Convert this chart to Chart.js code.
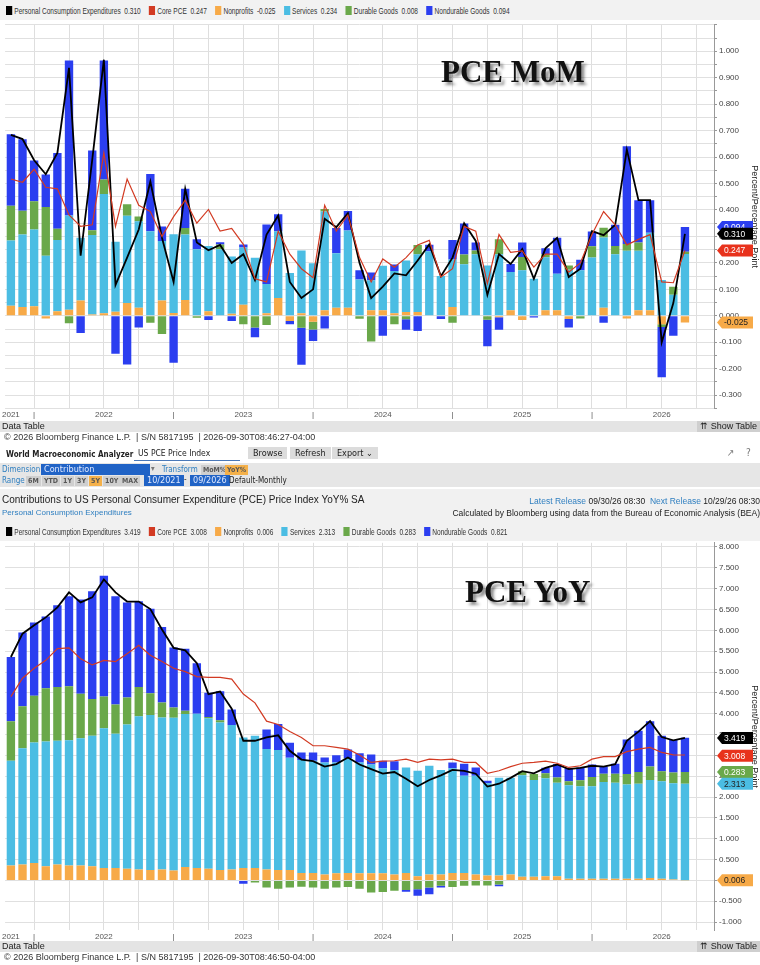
<!DOCTYPE html>
<html>
<head>
<meta charset="utf-8">
<script src="https://cdn.jsdelivr.net/npm/chart.js@4.4.1/dist/chart.umd.min.js"></script>
<style>
  body { margin: 0; width: 760px; height: 965px; background: #fff; position: relative; overflow: hidden;
         font-family: "Liberation Sans", Arial, sans-serif; color: #222; }
  .abs { position: absolute; }
  .legend { left: 0; width: 760px; height: 20px; }
  .legend .in { position: absolute; left: 6px; top: 0; height: 20px; display: flex; align-items: center; white-space: nowrap;
                font-size: 9.5px; color: #333; transform: scaleX(0.69); transform-origin: left center; }
  .legend span.item { display: inline-flex; align-items: center; margin-right: 12px; white-space: nowrap; }
  .legend i { display: inline-block; width: 9px; height: 9px; margin-right: 3px; }
  .bar { left: 0; width: 760px; height: 11px; background: #e4e4e4; font-size: 9px; line-height: 11px; }
  .bar .l { position: absolute; left: 2px; }
  .bar .r { position: absolute; right: 0; top: 0; background: #cfcfcf; padding: 0 3px; }
  .copy { left: 4px; font-size: 9px; color: #333; white-space: nowrap; }
  .big { font-family: "Liberation Serif", "Times New Roman", serif; font-weight: bold; font-size: 31px; color: #111;
         text-shadow: 3px 3px 3px rgba(0,0,0,0.45); white-space: nowrap; }
  .btn { background: #dcdcdc; padding: 1px 5px; font-size: 9px; }
  .blue { color: #2f7fc0; }
  .tab { position: absolute; top: 0; background: #cfcfcf; padding: 0 2px; font-size: 7px; font-weight: bold; color: #555; line-height: 10px; }
  .sel { background: #2063c6; color: #dfe8ff; padding: 0 3px; font-size: 9px; line-height: 11px; }
  .cond { font-family: "DejaVu Sans Condensed", "Liberation Sans", sans-serif; }
</style>
</head>
<body>
<div class="abs legend" style="top:0;background:#f2f2f2"><div class="in" id="leg1"></div></div>
<canvas class="abs" id="mom" style="left:0;top:18px" width="760" height="404"></canvas>
<div class="abs big" style="left:441px;top:54px">PCE MoM</div>

<div class="abs bar" style="top:421px"><span class="l">Data Table</span><span class="r">&#8648; Show Table</span></div>
<div class="abs copy" style="top:432px">&#169; 2026 Bloomberg Finance L.P. &nbsp;| S/N 5817195 &nbsp;| 2026-09-30T08:46:27-04:00</div>

<div class="abs cond" style="left:0;top:446px;width:760px;height:17px;font-size:8.5px;">
  <span class="abs" style="left:6px;top:4px;font-weight:bold;font-size:8px">World Macroeconomic Analyzer</span>
  <span class="abs" style="left:134px;top:2px;width:102px;height:12px;border-bottom:1px solid #4a78b8;padding-left:4px">US PCE Price Index</span>
  <span class="abs btn" style="left:248px;top:1px">Browse</span>
  <span class="abs btn" style="left:290px;top:1px">Refresh</span>
  <span class="abs btn" style="left:332px;top:1px">Export &#8964;</span>
  <span class="abs" style="left:727px;top:1px;font-size:10px;color:#777">&#8599;</span>
  <span class="abs" style="left:746px;top:1px;font-size:10px;color:#777">?</span>
</div>
<div class="abs cond" style="left:0;top:463px;width:760px;height:24px;background:#e6e6e6;font-size:8px">
  <span class="abs blue" style="left:2px;top:2px">Dimension</span>
  <span class="abs sel" style="left:41px;top:1px;width:103px">Contribution</span>
  <span class="abs" style="left:151px;top:1px;color:#777">&#9662;</span>
  <span class="abs blue" style="left:162px;top:2px">Transform</span>
  <span class="abs" style="left:0;top:2px"><span class="tab" style="left:201px">MoM%</span><span class="tab" style="left:225px;background:#f5b14a">YoY%</span></span>
  <span class="abs blue" style="left:2px;top:13px">Range</span>
  <span class="abs" style="left:0;top:13px">
    <span class="tab" style="left:26px">6M</span><span class="tab" style="left:42px">YTD</span><span class="tab" style="left:61px">1Y</span><span class="tab" style="left:75px">3Y</span><span class="tab" style="left:89px;background:#f5b14a">5Y</span><span class="tab" style="left:103px">10Y</span><span class="tab" style="left:120px">MAX</span>
  </span>
  <span class="abs sel" style="left:144px;top:12px">10/2021</span>
  <span class="abs" style="left:184px;top:12px">-</span>
  <span class="abs sel" style="left:190px;top:12px">09/2026</span>
  <span class="abs" style="left:229px;top:13px">Default-Monthly</span>
</div>
<div class="abs" style="left:0;top:489px;width:760px;height:32px;background:#f1f1f1">
  <span class="abs" style="left:2px;top:5px;font-size:10px;color:#222">Contributions to US Personal Consumer Expenditure (PCE) Price Index YoY% SA</span>
  <span class="abs blue" style="left:2px;top:19px;font-size:8px">Personal Consumption Expenditures</span>
  <span class="abs" style="right:0;top:7px;font-size:8.5px"><span class="blue">Latest Release</span> 09/30/26 08:30 &nbsp;<span class="blue">Next Release</span> 10/29/26 08:30</span>
  <span class="abs" style="right:0;top:19px;font-size:8.5px">Calculated by Bloomberg using data from the Bureau of Economic Analysis (BEA)</span>
</div>
<div class="abs legend" style="top:521px;background:#f1f1f1"><div class="in" id="leg2"></div></div>
<canvas class="abs" id="yoy" style="left:0;top:536px" width="760" height="408"></canvas>
<div class="abs big" style="left:465px;top:574px">PCE YoY</div>

<div class="abs bar" style="top:941px"><span class="l">Data Table</span><span class="r">&#8648; Show Table</span></div>
<div class="abs copy" style="top:952px">&#169; 2026 Bloomberg Finance L.P. &nbsp;| S/N 5817195 &nbsp;| 2026-09-30T08:46:50-04:00</div>

<script>
// Month categories, May 2021 .. May 2026 (last two are empty slots)
const months = [
  '2021-05','2021-06','2021-07','2021-08','2021-09','2021-10','2021-11','2021-12',
  '2022-01','2022-02','2022-03','2022-04','2022-05','2022-06','2022-07','2022-08','2022-09','2022-10','2022-11','2022-12',
  '2023-01','2023-02','2023-03','2023-04','2023-05','2023-06','2023-07','2023-08','2023-09','2023-10','2023-11','2023-12',
  '2024-01','2024-02','2024-03','2024-04','2024-05','2024-06','2024-07','2024-08','2024-09','2024-10','2024-11','2024-12',
  '2025-01','2025-02','2025-03','2025-04','2025-05','2025-06','2025-07','2025-08','2025-09','2025-10','2025-11','2025-12',
  '2026-01','2026-02','2026-03','2026-04','2026-05'
];

// ---- MoM contributions ----
const momNonprofits = [0.038,0.033,0.036,-0.010,0.017,0.023,0.058,0.005,0.010,0.015,0.048,0.030,0.000,0.058,0.011,0.060,0.000,0.017,0.002,0.008,
  0.042,0.000,0.010,0.067,-0.020,0.010,-0.022,0.021,0.030,0.030,0.000,0.021,0.021,0.010,0.014,0.014,0.002,0.000,0.033,0.000,
  0.000,0.000,-0.005,0.021,-0.016,0.000,0.021,0.021,-0.012,0.000,0.000,0.030,0.000,-0.010,0.021,0.021,-0.032,0.000,-0.025];
const momServices = [0.247,0.274,0.290,0.227,0.270,0.356,0.237,0.300,0.450,0.265,0.330,0.327,0.320,0.225,0.297,0.247,0.252,0.247,0.250,0.216,
  0.216,0.219,0.110,0.253,0.162,0.237,0.199,0.373,0.206,0.292,0.137,0.113,0.168,0.159,0.195,0.219,0.242,0.150,0.180,0.195,
  0.233,0.190,0.233,0.145,0.172,0.140,0.200,0.138,0.174,0.172,0.220,0.266,0.233,0.246,0.225,0.293,0.135,0.080,0.234];
const momDurable = [0.131,0.090,0.107,0.184,0.042,-0.028,0.000,0.018,0.055,0.000,0.044,0.018,-0.026,-0.069,0.000,0.025,-0.007,0.000,0.018,0.000,
  -0.032,-0.044,-0.035,0.000,0.000,-0.045,-0.030,0.010,0.000,0.000,-0.011,-0.097,0.000,-0.032,-0.013,0.035,0.000,0.000,-0.026,0.037,
  0.014,-0.015,0.056,0.000,0.050,0.000,0.012,0.000,0.016,-0.010,0.043,0.037,0.031,0.025,0.031,0.000,-0.010,0.030,0.008];
const momNondurable = [0.270,0.270,0.154,0.123,0.286,0.586,-0.065,0.302,0.450,-0.143,-0.184,-0.044,0.216,0.055,-0.177,0.148,0.037,-0.016,0.008,-0.020,
  0.012,-0.037,0.225,0.064,-0.012,-0.140,-0.043,-0.048,0.096,0.074,0.035,0.030,-0.075,0.025,-0.040,-0.057,0.025,-0.012,0.074,0.117,
  0.030,-0.100,-0.048,0.030,0.055,-0.006,0.022,0.136,-0.032,0.040,0.056,-0.026,0.080,0.370,0.160,0.123,-0.190,-0.075,0.094];
const momPCE = [0.684,0.668,0.588,0.535,0.616,0.937,0.227,0.590,0.968,0.116,0.220,0.326,0.507,0.295,0.128,0.480,0.277,0.248,0.268,0.200,
  0.233,0.135,0.307,0.379,0.128,0.067,0.100,0.367,0.335,0.388,0.200,0.067,0.110,0.160,0.153,0.209,0.270,0.150,0.220,0.350,
  0.283,0.079,0.233,0.196,0.252,0.140,0.255,0.295,0.147,0.178,0.320,0.305,0.344,0.628,0.437,0.437,-0.100,0.048,0.310];
const momCore = [0.517,0.505,0.554,0.486,0.480,0.381,0.338,0.344,0.616,0.338,0.517,0.418,0.394,0.300,0.375,0.437,0.350,0.402,0.320,0.330,
  0.270,0.140,0.128,0.320,0.233,0.178,0.144,0.418,0.320,0.381,0.220,0.128,0.215,0.184,0.220,0.268,0.285,0.147,0.178,0.338,
  0.320,0.122,0.307,0.240,0.245,0.184,0.233,0.233,0.165,0.200,0.307,0.394,0.344,0.268,0.289,0.307,0.128,0.125,0.247];

// ---- YoY contributions ----
const yoyNonprofits = [0.36,0.38,0.42,0.34,0.38,0.36,0.36,0.34,0.30,0.30,0.28,0.26,0.25,0.26,0.24,0.32,0.30,0.28,0.25,0.26,
  0.30,0.30,0.26,0.25,0.25,0.18,0.18,0.14,0.17,0.18,0.17,0.17,0.17,0.14,0.18,0.10,0.14,0.14,0.18,0.18,
  0.14,0.12,0.12,0.14,0.09,0.09,0.10,0.10,0.04,0.04,0.04,0.04,0.04,0.04,0.04,0.06,0.04,0.02,0.006];
const yoyServices = [2.51,2.79,2.89,2.99,2.97,3.00,3.05,3.13,3.35,3.22,3.46,3.68,3.72,3.65,3.66,3.67,3.70,3.61,3.54,3.47,
  3.13,3.17,2.89,2.88,2.69,2.71,2.69,2.69,2.66,2.75,2.66,2.61,2.52,2.51,2.53,2.53,2.61,2.51,2.51,2.33,
  2.37,2.21,2.34,2.32,2.43,2.32,2.35,2.24,2.24,2.22,2.22,2.32,2.30,2.26,2.28,2.35,2.34,2.31,2.313];
const yoyDurable = [0.95,1.01,1.12,1.28,1.29,1.30,1.07,0.88,0.76,0.70,0.65,0.70,0.52,0.36,0.25,0.08,0.00,0.03,0.05,0.00,
  0.00,-0.05,-0.17,-0.20,-0.17,-0.15,-0.17,-0.20,-0.17,-0.16,-0.20,-0.29,-0.28,-0.25,-0.23,-0.21,-0.17,-0.13,-0.16,-0.13,
  -0.12,-0.12,-0.10,0.00,0.10,0.14,0.12,0.13,0.10,0.14,0.22,0.20,0.22,0.25,0.28,0.32,0.24,0.26,0.283];
const yoyNondurable = [1.54,1.77,1.76,1.72,1.96,2.16,2.26,2.59,2.90,2.60,2.28,2.06,2.03,1.81,1.44,1.49,1.21,0.58,0.70,0.37,
  -0.08,0.00,0.47,0.62,0.36,0.18,0.20,0.12,0.17,0.21,0.22,0.24,0.18,0.21,-0.04,-0.16,-0.16,-0.04,0.14,0.29,
  0.20,0.06,-0.04,0.00,0.00,0.00,0.13,0.32,0.31,0.30,0.30,0.17,0.24,0.83,0.99,1.09,0.85,0.78,0.821];
const yoyPCE = [5.36,5.92,6.12,6.31,6.55,6.91,6.67,6.79,7.22,6.91,6.69,6.69,6.51,6.02,5.58,5.52,5.21,4.47,4.53,4.12,
  3.35,3.35,3.43,3.48,3.11,2.90,2.86,2.73,2.79,2.95,2.78,2.67,2.56,2.60,2.44,2.26,2.41,2.52,2.65,2.63,
  2.56,2.25,2.32,2.46,2.62,2.57,2.70,2.78,2.67,2.70,2.75,2.73,2.79,3.35,3.57,3.82,3.44,3.36,3.419];
const yoyCore = [4.41,4.85,5.09,5.28,5.56,5.58,5.32,5.17,5.28,5.25,5.44,5.64,5.40,5.25,5.09,5.01,4.89,4.87,4.87,4.83,
  4.47,4.26,3.82,3.74,3.57,3.43,3.23,3.23,3.19,3.15,3.01,2.83,2.86,2.87,2.91,2.83,2.91,2.89,2.91,2.83,
  2.83,2.57,2.63,2.73,2.81,2.83,2.86,2.81,2.71,2.75,2.91,2.97,2.97,3.09,3.15,3.19,3.07,3.01,3.008];

const COLORS = {
  pce: '#000000', core: '#d23a22', nonprofits: '#f7aa48',
  services: '#4bbde3', durable: '#6aa84a', nondurable: '#2b3ef0'
};

/**
 * Fill the HTML legend strip
 */
function fillLegend(id, vals) {
  const names = [['Personal Consumption Expenditures', 'pce'], ['Core PCE', 'core'], ['Nonprofits', 'nonprofits'],
                 ['Services', 'services'], ['Durable Goods', 'durable'], ['Nondurable Goods', 'nondurable']];
  document.getElementById(id).innerHTML = names.map((n, i) =>
    `<span class="item"><i style="background:${COLORS[n[1]]}"></i>${n[0]}&nbsp; ${vals[i]}</span>`).join('');
}

// draws the value tags on the right axis
const tagPlugin = {
  id: 'tags',
  afterDraw(chart, args, opts) {
    const ctx = chart.ctx;
    const y = chart.scales.y;
    const x0 = chart.chartArea.right + 3;
    ctx.save();
    ctx.font = '8.5px "Liberation Sans", sans-serif';
    ctx.textBaseline = 'middle';
    (opts.items || []).forEach(t => {
      const py = y.getPixelForValue(t.value);
      ctx.fillStyle = t.color;
      ctx.beginPath();
      ctx.moveTo(x0, py);
      ctx.lineTo(x0 + 5, py - 6);
      ctx.lineTo(x0 + 36, py - 6);
      ctx.lineTo(x0 + 36, py + 6);
      ctx.lineTo(x0 + 5, py + 6);
      ctx.closePath();
      ctx.fill();
      ctx.fillStyle = t.text || '#fff';
      ctx.fillText(t.label, x0 + 7, py + 0.5);
    });
    ctx.restore();
  }
};

/**
 * Build one stacked contribution chart
 */
function makeChart(canvas, o) {
  const bar = (label, data, color) => ({
    type: 'bar', label, data, backgroundColor: color, stack: 'parts', order: 2,
    barPercentage: 0.72, categoryPercentage: 1.0
  });
  const line = (label, data, color, w) => ({
    type: 'line', label, data, borderColor: color, borderWidth: w, pointRadius: 0,
    stack: label, order: 0, tension: 0
  });
  return new Chart(canvas, {
    data: {
      labels: months,
      datasets: [
        bar('Nonprofits', o.nonprofits, COLORS.nonprofits),
        bar('Services', o.services, COLORS.services),
        bar('Durable Goods', o.durable, COLORS.durable),
        bar('Nondurable Goods', o.nondurable, COLORS.nondurable),
        line('Core PCE', o.core, COLORS.core, 1.2),
        line('PCE', o.pce, COLORS.pce, 1.8)
      ]
    },
    options: {
      responsive: false,
      animation: false,
      layout: { padding: 0 },
      plugins: { legend: { display: false }, tooltip: { enabled: false }, tags: { items: o.tags } },
      scales: {
        x: {
          stacked: true,
          offset: true,
          grid: {
            offset: false, drawTicks: false,
            color: c => (c.index % 3 === 2 ? '#dedede' : 'rgba(0,0,0,0)')
          },
          border: { display: false },
          ticks: {
            autoSkip: false, maxRotation: 0, padding: 2,
            font: { size: 8, family: 'Liberation Sans' }, color: '#555',
            callback: (v, i) => {
              const m = months[i];
              if (i === 0) return m.slice(0, 4);
              if (m.endsWith('-01')) return m.slice(0, 4);
              if (m.endsWith('-07')) return '|';
              return '';
            }
          }
        },
        y: {
          position: 'right',
          stacked: true,
          min: o.min, max: o.max,
          grid: { color: '#e0e0e0', tickLength: 3, tickColor: '#999' },
          border: { color: '#999' },
          ticks: {
            padding: 2,
            font: { size: 8, family: 'Liberation Sans' }, color: '#444',
            callback: v => o.showTick(v) ? v.toFixed(3) : ''
          },
          // gridlines on exact multiples of the step
          afterBuildTicks: s => {
            const t = [];
            for (let k = Math.ceil(o.min / o.step - 1e-6); k * o.step <= o.max + 1e-6; k++) {
              t.push({ value: +(k * o.step).toFixed(4) });
            }
            s.ticks = t;
          },
          title: {
            display: true, text: 'Percent/Percentage Point', padding: 0,
            font: { size: 9, family: 'Liberation Sans' }, color: '#222'
          },
          afterFit: s => { s.width = 46; }
        }
      }
    },
    plugins: [tagPlugin]
  });
}

fillLegend('leg1', ['0.310', '0.247', '-0.025', '0.234', '0.008', '0.094']);
fillLegend('leg2', ['3.419', '3.008', '0.006', '2.313', '0.283', '0.821']);

makeChart(document.getElementById('mom'), {
  nonprofits: momNonprofits, services: momServices, durable: momDurable, nondurable: momNondurable,
  pce: momPCE, core: momCore,
  min: -0.35, max: 1.1, step: 0.05,
  showTick: v => Math.round(v * 100) % 10 === 0 && v <= 1.0001,
  tags: [
    { value: 0.336, label: '0.094', color: COLORS.nondurable },
    { value: 0.310, label: '0.310', color: '#000' },
    { value: 0.247, label: '0.247', color: '#e8321c' },
    { value: -0.025, label: '-0.025', color: COLORS.nonprofits, text: '#222' }
  ]
});

makeChart(document.getElementById('yoy'), {
  nonprofits: yoyNonprofits, services: yoyServices, durable: yoyDurable, nondurable: yoyNondurable,
  pce: yoyPCE, core: yoyCore,
  min: -1.2, max: 8.1, step: 0.25,
  showTick: v => Math.round(v * 100) % 50 === 0 && v <= 8.0001 && v >= -1.0001,
  tags: [
    { value: 3.419, label: '3.419', color: '#000' },
    { value: 2.99, label: '3.008', color: '#e8321c' },
    { value: 2.602, label: '0.283', color: COLORS.durable },
    { value: 2.319, label: '2.313', color: COLORS.services, text: '#222' },
    { value: 0.006, label: '0.006', color: COLORS.nonprofits, text: '#222' }
  ]
});
</script>
</body>
</html>
